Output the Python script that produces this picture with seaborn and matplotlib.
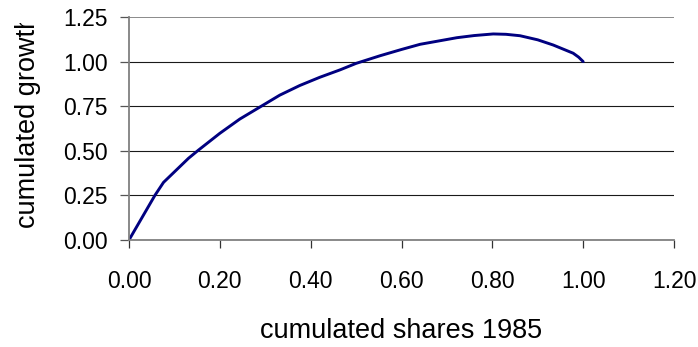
import matplotlib
matplotlib.use("Agg")
import matplotlib.pyplot as plt
from matplotlib.ticker import FormatStrFormatter
from matplotlib.transforms import Bbox
import seaborn as sns
import pandas as pd

# cumulated shares (1985) against cumulated growth
cum_shares = [0.0, 0.057, 0.076, 0.131, 0.153, 0.20, 0.244, 0.290, 0.332,
              0.376, 0.420, 0.465, 0.500, 0.553, 0.600, 0.641, 0.722, 0.760,
              0.802, 0.830, 0.861, 0.900, 0.934, 0.978, 0.990, 1.0]
cum_growth = [0.0, 0.25, 0.323, 0.458, 0.504, 0.598, 0.678, 0.748, 0.812,
              0.866, 0.912, 0.954, 0.990, 1.033, 1.068, 1.097, 1.134, 1.146,
              1.155, 1.153, 1.145, 1.122, 1.093, 1.047, 1.025, 1.0]

x_ticks = [0.0, 0.2, 0.4, 0.6, 0.8, 1.0, 1.2]
y_ticks = [0.0, 0.25, 0.5, 0.75, 1.0, 1.25]

x_label = "cumulated shares 1985"
y_label = "cumulated growth"

df = pd.DataFrame({"share": cum_shares, "growth": cum_growth})

sns.set_theme(style="white")
plt.rcParams["font.family"] = ["Liberation Sans", "DejaVu Sans"]

W, H = 698, 347
fig = plt.figure(figsize=(W / 100, H / 100), dpi=100)
ax = fig.add_axes([129 / W, (H - 240) / H, (674 - 129) / W, (240 - 17) / H])

sns.lineplot(data=df, x="share", y="growth", sort=False, estimator=None,
             color="#000080", linewidth=2.1, ax=ax)

ax.set_xlim(0, 1.2)
ax.set_ylim(0, 1.25)
ax.set_xticks(x_ticks)
ax.set_yticks(y_ticks)
ax.xaxis.set_major_formatter(FormatStrFormatter("%.2f"))
ax.yaxis.set_major_formatter(FormatStrFormatter("%.2f"))

ax.grid(axis="y", color="#1a1a1a", linewidth=0.8)
ax.grid(axis="x", visible=False)
ax.set_axisbelow(True)
ax.yaxis.get_gridlines()[-1].set_color("#8a8a8a")
ax.yaxis.get_gridlines()[-1].set_linewidth(1.4)

for side in ("top", "right"):
    ax.spines[side].set_visible(False)
for side in ("left", "bottom"):
    ax.spines[side].set_color("#808080")
    ax.spines[side].set_linewidth(1.3)

ax.tick_params(axis="x", direction="out", length=5.8, width=0.9,
               color="#333333", pad=16, labelsize=16.5, labelcolor="black",
               bottom=True)
ax.tick_params(axis="y", direction="out", length=6.5, width=0.9,
               color="#555555", pad=8.6, labelsize=16.5, labelcolor="black",
               left=True)

ax.set_xlabel(x_label, fontsize=19.5, color="black")
ax.xaxis.set_label_coords(0.5, -0.35)

ylab = ax.set_ylabel(y_label, fontsize=19.5, color="black")
ax.yaxis.set_label_coords(-0.162, 0.534)
# the label box is cut off at its upper end
ylab.set_clip_on(True)
ylab.set_clip_box(Bbox.from_extents(0, 0, W, H - 23))

fig.savefig("out.png", dpi=100, facecolor="white")
